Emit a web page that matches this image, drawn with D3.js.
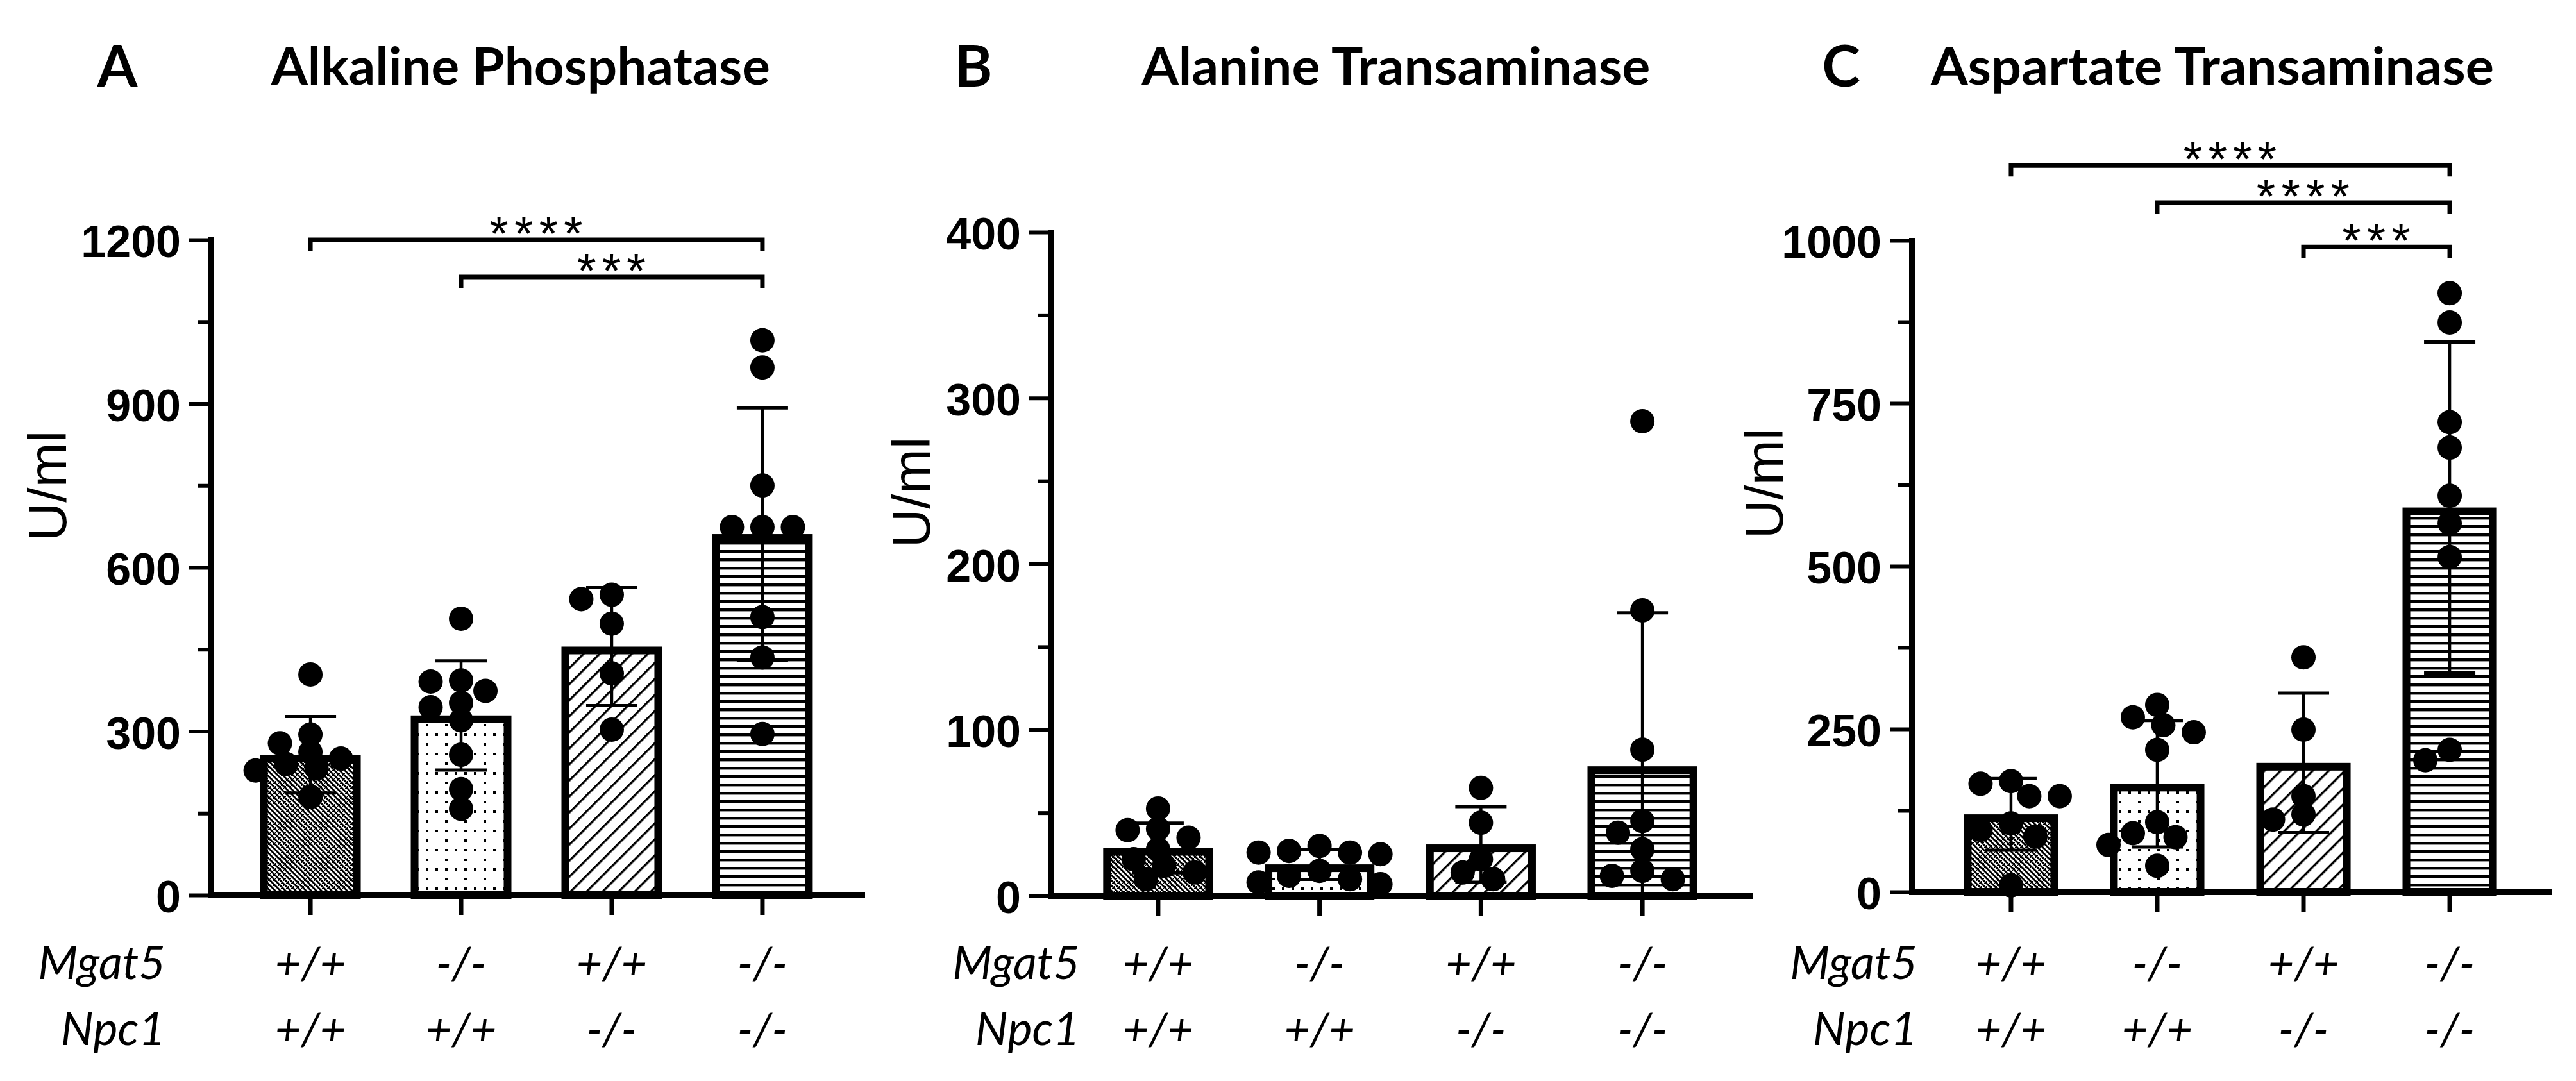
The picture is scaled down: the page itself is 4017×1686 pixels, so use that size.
<!DOCTYPE html>
<html><head><meta charset="utf-8">
<script src="https://cdn.jsdelivr.net/npm/d3@7"></script>
<style>body{margin:0;background:#fff}svg{display:block}</style>
</head><body><svg id="chart"></svg>
<script>
// ---------- data ----------
const groups = ["WT", "Mgat5KO", "Npc1KO", "DKO"];
const mgat5 = ["+/+", "-/-", "+/+", "-/-"];
const npc1 = ["+/+", "+/+", "-/-", "-/-"];
const rowLabels = ["Mgat5", "Npc1"];
const panelLetters = ["A", "B", "C"];
const titles = ["Alkaline Phosphatase", "Alanine Transaminase", "Aspartate Transaminase"];
const yLabel = "U/ml";

const alpMean = [257, 329, 455, 661];
const alpSD = [70, 100, 108, 231];
const alpPoints = [
  [404, 294, 278, 262, 250, 240, 232, 228, 180],
  [506, 393, 391, 374, 352, 344, 320, 257, 194, 158],
  [550, 542, 497, 406, 303],
  [1016, 966, 750, 674, 674, 674, 509, 435, 295]
];
const alpTicks = [0, 300, 600, 900, 1200];
const alpMinor = [150, 450, 750, 1050];
const alpSig = [[0, 3, 1200, "****"], [1, 3, 1132, "***"]];

const altMean = [28.8, 18.9, 30.9, 78];
const altSD = [15, 9, 22.8, 92.5];
const altPoints = [
  [52.6, 40.3, 39.5, 35, 28, 22, 18, 14, 10],
  [30, 27, 26, 26, 25, 15, 12, 10, 8, 7],
  [65, 44, 22, 14, 10],
  [286, 172, 88, 45, 38, 28, 15, 12, 10]
];
const altTicks = [0, 100, 200, 300, 400];
const altMinor = [50, 150, 250, 350];
const altSig = [];

const astMean = [119, 166, 198, 590];
const astSD = [55, 97, 107, 254];
const astPoints = [
  [170, 166, 147, 147, 105, 95, 85, 10],
  [287, 268, 256, 245, 218, 107, 90, 84, 72, 40],
  [360, 249, 147, 119, 111],
  [919, 874, 721, 682, 608, 566, 514, 218, 202]
];
const astTicks = [0, 250, 500, 750, 1000];
const astMinor = [125, 375, 625, 875];
const astSig = [[0, 3, 1115, "****"], [1, 3, 1058, "****"], [2, 3, 990, "***"]];

// ---------- layout ----------
const W = 4017, H = 1686;
const panels = [
  {letter: panelLetters[0], title: titles[0], means: alpMean, sds: alpSD, points: alpPoints, ticks: alpTicks, minor: alpMinor, sig: alpSig,
   L: {axisX: 329, y0: 1396, yTop: 374, xEnd: 1344, pi: 0.332, po: 0.326, titleX: 812, titleW: 778, letterX: 183, ylabX: 73, ylabY: 758, rowLabX: 258}},
  {letter: panelLetters[1], title: titles[1], means: altMean, sds: altSD, points: altPoints, ticks: altTicks, minor: altMinor, sig: altSig,
   L: {axisX: 1639, y0: 1397, yTop: 362, xEnd: 2728, pi: 0.32, po: 0.323, titleX: 2177, titleW: 793, letterX: 1518, ylabX: 1420, ylabY: 768, rowLabX: 1684}},
  {letter: panelLetters[2], title: titles[2], means: astMean, sds: astSD, points: astPoints, ticks: astTicks, minor: astMinor, sig: astSig,
   L: {axisX: 2981, y0: 1391, yTop: 375, xEnd: 3975, pi: 0.355, po: 0.357, titleX: 3450, titleW: 878, letterX: 2871, ylabX: 2750, ylabY: 754, rowLabX: 2990}}
];

const svg = d3.select("#chart").attr("width", W).attr("height", H).attr("viewBox", `0 0 ${W} ${H}`);
svg.append("rect").attr("width", W).attr("height", H).attr("fill", "#fff");

// ---------- patterns ----------
const defs = svg.append("defs");
const p1 = defs.append("pattern").attr("id", "pat0").attr("patternUnits", "userSpaceOnUse").attr("width", 8).attr("height", 8);
p1.append("rect").attr("width", 8).attr("height", 8).attr("fill", "#fff");
p1.append("path").attr("d", "M-2,-2L10,10M-2,6L2,10M6,-2L10,2").attr("stroke", "#000").attr("stroke-width", 2.8);
p1.append("path").attr("d", "M0,8L8,0").attr("stroke", "#000").attr("stroke-width", 1);

const p2 = defs.append("pattern").attr("id", "pat1").attr("patternUnits", "userSpaceOnUse").attr("width", 30).attr("height", 30);
p2.append("rect").attr("width", 30).attr("height", 30).attr("fill", "#fff");
[[4, 4], [19, 4], [4, 19]].forEach(d => {
  p2.append("rect").attr("x", d[0]).attr("y", d[1]).attr("width", 4).attr("height", 4).attr("fill", "#000");
});

const p3 = defs.append("pattern").attr("id", "pat2").attr("patternUnits", "userSpaceOnUse").attr("width", 17.7).attr("height", 10).attr("patternTransform", "rotate(45)");
p3.append("rect").attr("width", 17.7).attr("height", 10).attr("fill", "#fff");
p3.append("rect").attr("width", 3.4).attr("height", 10).attr("fill", "#000");

const p4 = defs.append("pattern").attr("id", "pat3").attr("patternUnits", "userSpaceOnUse").attr("width", 10).attr("height", 13);
p4.append("rect").attr("width", 10).attr("height", 13).attr("fill", "#fff");
p4.append("rect").attr("y", 0).attr("width", 10).attr("height", 4.4).attr("fill", "#000");

// ---------- helpers ----------
const R = 19;
function swarm(vals, cx, y) {
  const placed = [];
  const a = 46, b = 26, step = R / 2;
  return vals.map(v => {
    const py = y(v);
    let dx = 0;
    for (let i = 0; i < 60; i++) {
      const c = i === 0 ? 0 : (i % 2 ? -1 : 1) * Math.ceil(i / 2) * step;
      if (placed.every(p => ((p.dx - c) / a) ** 2 + ((p.y - py) / b) ** 2 >= 1)) { dx = c; break; }
    }
    placed.push({dx, y: py});
    return {v, x: cx + dx, y: py};
  });
}

const tickFont = "'Liberation Sans', Arial, sans-serif";
const calFont = "Lato, 'Open Sans', sans-serif";

panels.forEach(P => {
  const L = P.L;
  const g = svg.append("g");
  const yMax = P.ticks[P.ticks.length - 1];
  const y = d3.scaleLinear().domain([0, yMax]).range([L.y0, L.yTop]);
  const x = d3.scaleBand().domain(groups).range([L.axisX, L.xEnd]).paddingInner(L.pi).paddingOuter(L.po);
  const bw = x.bandwidth();
  const sw = 12;

  // letter + title
  g.append("text").attr("x", L.letterX).attr("y", 135).attr("text-anchor", "middle")
    .attr("font-family", calFont).attr("font-weight", 700).attr("font-size", 90).text(P.letter);
  g.append("text").attr("x", L.titleX).attr("y", 132).attr("text-anchor", "middle")
    .attr("font-family", calFont).attr("font-weight", 700).attr("font-size", 80)
    .attr("textLength", L.titleW).attr("lengthAdjust", "spacingAndGlyphs").text(P.title);

  // y label
  g.append("text").attr("transform", `translate(${L.ylabX},${L.ylabY}) rotate(-90)`)
    .attr("text-anchor", "middle").attr("dy", "0.36em")
    .attr("font-family", tickFont).attr("font-size", 84).text(yLabel);

  // bars
  g.selectAll("rect.bar").data(P.means).join("rect").attr("class", "bar")
    .attr("x", (d, i) => x(groups[i]) + sw / 2)
    .attr("y", d => y(d) + sw / 2)
    .attr("width", bw - sw)
    .attr("height", d => L.y0 - y(d) - sw / 2)
    .attr("fill", (d, i) => `url(#pat${i})`)
    .attr("stroke", "#000").attr("stroke-width", sw);

  // error bars
  P.means.forEach((m, i) => {
    const cx = x(groups[i]) + bw / 2;
    const hi = y(m + P.sds[i]), lo = y(Math.max(0, m - P.sds[i]));
    g.append("line").attr("x1", cx).attr("x2", cx).attr("y1", hi).attr("y2", lo).attr("stroke", "#000").attr("stroke-width", 4.5);
    [hi, lo].forEach(yy => g.append("line").attr("x1", cx - 40).attr("x2", cx + 40).attr("y1", yy).attr("y2", yy)
      .attr("stroke", "#000").attr("stroke-width", 5));
  });

  // points
  P.points.forEach((vals, i) => {
    const cx = x(groups[i]) + bw / 2;
    g.selectAll(null).data(swarm(vals, cx, y)).join("circle")
      .attr("cx", d => d.x).attr("cy", d => d.y).attr("r", R).attr("fill", "#000");
  });

  // y axis
  const ya = g.append("g").attr("transform", `translate(${L.axisX},0)`)
    .call(d3.axisLeft(y).tickValues(P.ticks).tickFormat(d3.format("d")).tickSize(34).tickSizeOuter(0).tickPadding(13));
  ya.select(".domain").attr("stroke-width", 9).attr("stroke-linecap", "square");
  ya.selectAll(".tick line").attr("stroke-width", 6);
  ya.selectAll(".tick text").attr("font-family", tickFont).attr("font-weight", 700).attr("font-size", 70).attr("dy", "0.38em").attr("fill", "#000");
  const ym = g.append("g").attr("transform", `translate(${L.axisX},0)`)
    .call(d3.axisLeft(y).tickValues(P.minor).tickSize(21).tickSizeOuter(0).tickFormat(""));
  ym.select(".domain").remove();
  ym.selectAll(".tick line").attr("stroke-width", 6);

  // x axis
  const xa = g.append("g").attr("transform", `translate(0,${L.y0})`)
    .call(d3.axisBottom(x).tickSize(31).tickSizeOuter(0).tickFormat(""));
  xa.select(".domain").attr("stroke-width", 9).attr("stroke-linecap", "square");
  xa.selectAll(".tick line").attr("stroke-width", 7);

  // genotype labels
  [mgat5, npc1].forEach((row, r) => {
    const yy = r === 0 ? 1527 : 1630;
    g.append("text").attr("x", L.rowLabX).attr("y", yy).attr("text-anchor", "end")
      .attr("font-family", calFont).attr("font-style", "italic").attr("font-size", 72).text(rowLabels[r]);
    row.forEach((lab, i) => {
      g.append("text").attr("x", x(groups[i]) + bw / 2).attr("y", yy).attr("text-anchor", "middle")
        .attr("font-family", calFont).attr("font-style", "italic").attr("font-size", 70).text(lab);
    });
  });

  // significance brackets
  P.sig.forEach(([a, b, lvl, lab]) => {
    const xa1 = x(groups[a]) + bw / 2, xb1 = x(groups[b]) + bw / 2, yy = y(lvl);
    g.append("path").attr("d", `M${xa1},${yy + 17}V${yy}H${xb1}V${yy + 17}`)
      .attr("fill", "none").attr("stroke", "#000").attr("stroke-width", 7);
    g.append("text").attr("x", (xa1 + xb1) / 2 + 4).attr("y", yy + 16).attr("text-anchor", "middle")
      .attr("font-family", tickFont).attr("font-size", 76).attr("letter-spacing", 9).text(lab);
  });
});
</script></body></html>
